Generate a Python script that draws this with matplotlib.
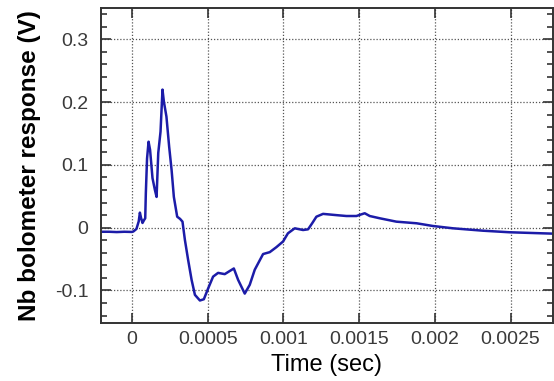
import numpy as np
import matplotlib
matplotlib.use("Agg")
import matplotlib.pyplot as plt
from matplotlib.ticker import MultipleLocator, FixedLocator

# bolometer trace
t = [-0.0002, -0.00015, -0.0001, -0.00005, 0.0, 0.00001, 0.00003, 0.000045, 0.0000528,
     0.00006, 0.00007, 0.00008, 0.000088, 0.000092, 0.0001, 0.00011, 0.00012, 0.000136,
     0.000152, 0.000163, 0.000174, 0.000189, 0.000202, 0.000211, 0.000228, 0.000246,
     0.000262, 0.000277, 0.000299, 0.000318, 0.000334, 0.00035, 0.000371, 0.000394,
     0.000416, 0.000449, 0.000475, 0.000503, 0.000536, 0.000569, 0.000613, 0.000646,
     0.000673, 0.000701, 0.000745, 0.000778, 0.000811, 0.000844, 0.000866, 0.00091,
     0.000954, 0.000998, 0.00103, 0.001075, 0.00113, 0.001163, 0.00119, 0.001218,
     0.001262, 0.00135, 0.001416, 0.001482, 0.001537, 0.00157, 0.001636, 0.001746,
     0.00188, 0.001987, 0.00212, 0.002317, 0.002493, 0.002713, 0.00278]
v = [-0.0065, -0.0065, -0.007, -0.0065, -0.0068, -0.006, -0.002, 0.01, 0.024,
     0.016, 0.0075, 0.012, 0.015, 0.055, 0.11, 0.137, 0.124, 0.079,
     0.06, 0.049, 0.119, 0.153, 0.22, 0.201, 0.177, 0.129,
     0.092, 0.049, 0.0175, 0.014, 0.0096, -0.0196, -0.051, -0.083,
     -0.107, -0.116, -0.114, -0.097, -0.078, -0.072, -0.074, -0.069,
     -0.065, -0.083, -0.105, -0.091, -0.067, -0.052, -0.042, -0.039,
     -0.031, -0.022, -0.009, -0.001, -0.0037, -0.0026, 0.007, 0.0175,
     0.022, 0.020, 0.0186, 0.0186, 0.023, 0.0186, 0.015, 0.0096,
     0.007, 0.0027, -0.001, -0.0048, -0.0073, -0.009, -0.0095]

xticks = [0, 0.0005, 0.001, 0.0015, 0.002, 0.0025]
xtick_labels = ["0", "0.0005", "0.001", "0.0015", "0.002", "0.0025"]
yticks = [-0.1, 0, 0.1, 0.2, 0.3]
ytick_labels = ["-0.1", "0", "0.1", "0.2", "0.3"]

plt.rcParams["font.family"] = ["Liberation Sans", "DejaVu Sans"]

fig = plt.figure(figsize=(5.54, 3.81), dpi=100)
ax = fig.add_axes([0.1823, 0.152, 0.8159, 0.827])

ax.plot(t, v, color="#1c1ca8", lw=1.8)

ax.set_xlim(-0.000204, 0.00278)
ax.set_ylim(-0.152, 0.35)
ax.xaxis.set_major_locator(FixedLocator(xticks))
ax.set_xticklabels(xtick_labels)
ax.yaxis.set_major_locator(FixedLocator(yticks))
ax.set_yticklabels(ytick_labels)
ax.yaxis.set_minor_locator(MultipleLocator(0.02))

ax.grid(True, which="major", color="#555555", linestyle=(0, (1, 1.5)), lw=0.9)
ax.tick_params(which="both", direction="in", top=True, right=True,
               labelsize=14, labelcolor="#3a3a3a", color="#333333")
ax.tick_params(which="major", length=7, width=1.2)
ax.tick_params(axis="x", which="major", pad=6)
ax.tick_params(axis="y", which="major", pad=9)
ax.tick_params(which="minor", length=4, width=1.2)
for s in ax.spines.values():
    s.set_color("#333333")
    s.set_linewidth(1.4)

ax.set_xlabel("Time (sec)", fontsize=17, labelpad=4)
ax.set_ylabel("Nb bolometer response (V)", fontsize=17.5, fontweight="bold", labelpad=10)

fig.savefig("out.png", dpi=100)
